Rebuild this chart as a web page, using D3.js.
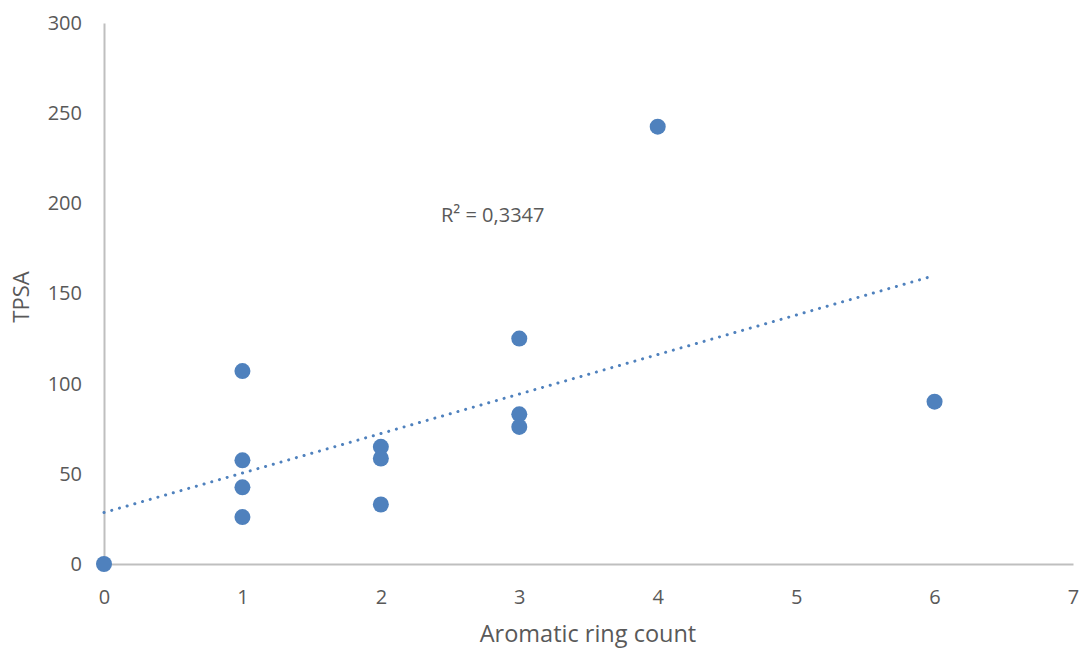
<!DOCTYPE html>
<html><head><meta charset="utf-8">
<script src="https://cdn.jsdelivr.net/npm/d3@7"></script>
<style>body{margin:0;background:#fff;}svg{display:block;font-family:"Open Sans","Liberation Sans",sans-serif;}</style>
</head><body>
<svg id="c" width="1083" height="649"></svg>
<script>
const ringCount = [0, 1, 1, 1, 1, 2, 2, 2, 3, 3, 3, 4, 6];
const tpsa = [0, 107, 57.5, 42.5, 26, 65, 58.5, 33, 125, 83, 76, 242.5, 90];
const xTicks = [0, 1, 2, 3, 4, 5, 6, 7];
const yTicks = [0, 50, 100, 150, 200, 250, 300];
const xTitle = "Aromatic ring count";
const yTitle = "TPSA";
const r2Label = "R² = 0,3347";

const svg = d3.select("#c");
const x = d3.scaleLinear().domain([0, 7]).range([104, 1073]);
const y = d3.scaleLinear().domain([0, 300]).range([564, 23]);
const txt = "#595959", axc = "#bfbfbf", col = "#4f81bd";

// axes
const xa = svg.append("g").attr("transform", `translate(0,${y(0)})`)
  .call(d3.axisBottom(x).tickValues(xTicks).tickSize(0).tickPadding(26).tickFormat(d3.format("d")));
const ya = svg.append("g").attr("transform", `translate(${x(0)},0)`)
  .call(d3.axisLeft(y).tickValues(yTicks).tickSize(0).tickPadding(22).tickFormat(d3.format("d")));
[xa, ya].forEach(g => {
  g.select(".domain").attr("stroke", axc).attr("stroke-width", 2);
  g.selectAll("text").attr("fill", txt).attr("font-size", 20).attr("font-family", '"Open Sans","Liberation Sans",sans-serif');
});

// trendline (least squares)
const n = ringCount.length;
const mx = d3.mean(ringCount), my = d3.mean(tpsa);
let sxy = 0, sxx = 0;
for (let i = 0; i < n; i++) { sxy += (ringCount[i]-mx)*(tpsa[i]-my); sxx += (ringCount[i]-mx)**2; }
const slope = sxy/sxx, icpt = my - slope*mx;
const xMax = d3.max(ringCount);
svg.append("line")
  .attr("x1", x(0)).attr("y1", y(icpt)).attr("x2", x(xMax)).attr("y2", y(icpt + slope*xMax))
  .attr("stroke", col).attr("stroke-width", 3).attr("stroke-linecap", "round")
  .attr("stroke-dasharray", "0.1 7.9");

// points
svg.append("g").selectAll("circle").data(ringCount.map((d, i) => [d, tpsa[i]])).join("circle")
  .attr("cx", d => x(d[0])).attr("cy", d => y(d[1])).attr("r", 8).attr("fill", col);

// labels
svg.append("text").attr("x", 441).attr("y", 222).attr("fill", txt).attr("font-size", 20).text(r2Label);
svg.append("text").attr("x", 588).attr("y", 642).attr("text-anchor", "middle").attr("fill", txt).attr("font-size", 23.5).text(xTitle);
svg.append("text").attr("transform", "translate(29,297) rotate(-90)").attr("text-anchor", "middle").attr("fill", txt).attr("font-size", 22).text(yTitle);
</script>
</body></html>
